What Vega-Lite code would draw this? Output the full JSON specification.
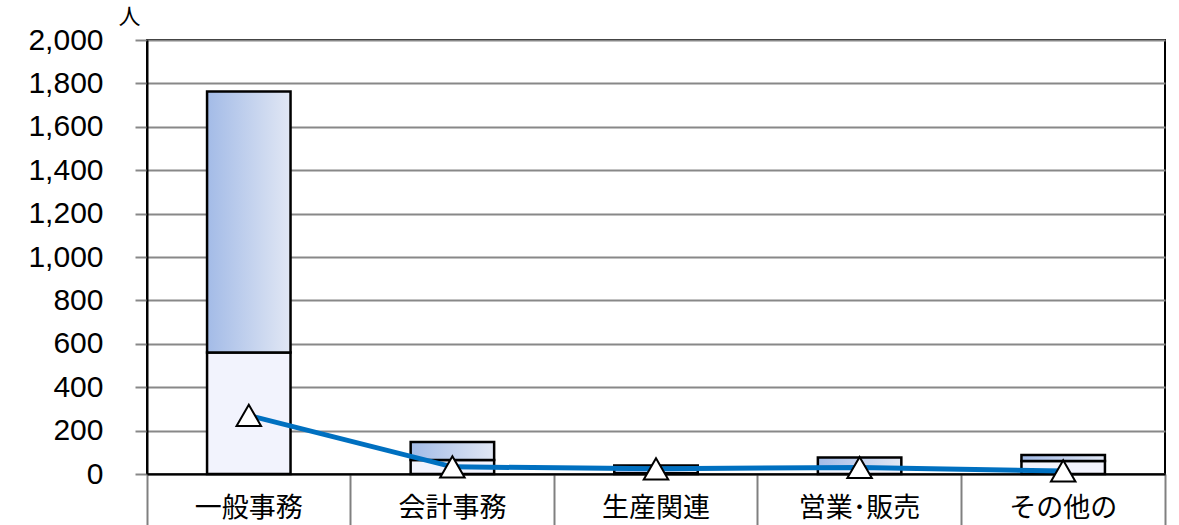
{
  "$schema": "https://vega.github.io/schema/vega-lite/v6.json",
  "autosize": "none",
  "padding": {"left": 147, "top": 40, "right": 14, "bottom": 51},
  "width": 1018,
  "height": 434,
  "background": "white",
  "config": {"view": {"stroke": "black", "strokeWidth": 2}},
  "data": {"values": [
    {"cat": "一般事務", "lower": 560, "total": 1763, "line": 270},
    {"cat": "会計事務", "lower": 65, "total": 147, "line": 33},
    {"cat": "生産関連\n事務", "lower": 3, "total": 39, "line": 24},
    {"cat": "営業･販売\n事務", "lower": 30, "total": 76, "line": 30},
    {"cat": "その他の\n事務員", "lower": 60, "total": 88, "line": 14}
  ]},
  "encoding": {
    "x": {
      "field": "cat", "type": "nominal", "sort": null,
      "scale": {"paddingInner": 0, "paddingOuter": 0},
      "axis": {
        "title": null, "labelAngle": 0,
        "labelExpr": "split(datum.label, '\\n')",
        "labelFont": "Noto Sans CJK JP", "labelFontSize": 27, "labelColor": "black",
        "labelBaseline": "middle", "labelLineHeight": 32,
        "labelPadding": -18,
        "bandPosition": 1, "tickExtra": true,
        "tickSize": 52, "tickColor": "#808080", "tickWidth": 2,
        "domainColor": "black", "domainWidth": 2,
        "grid": false
      }
    }
  },
  "layer": [
    {
      "mark": {"type": "bar", "width": {"band": 0.41}, "fill": "#F2F3FD", "stroke": "black", "strokeWidth": 2.5},
      "encoding": {
        "y": {
          "field": "lower", "type": "quantitative",
          "scale": {"domain": [0, 2000]},
          "axis": {
            "values": [0, 200, 400, 600, 800, 1000, 1200, 1400, 1600, 1800, 2000],
            "format": ",d",
            "labelFont": "Liberation Sans", "labelFontSize": 30, "labelColor": "black",
            "labelPadding": 32,
            "tickSize": 12, "tickColor": "#888888", "tickWidth": 2,
            "grid": true, "gridColor": "#888888", "gridWidth": 2,
            "domainColor": "black", "domainWidth": 2,
            "title": "人", "titleAngle": 0, "titleX": -18, "titleY": -24,
            "titleAlign": "center", "titleBaseline": "middle",
            "titleFont": "Noto Sans CJK JP", "titleFontSize": 22, "titleFontWeight": "normal", "titleColor": "black"
          }
        }
      }
    },
    {
      "mark": {
        "type": "bar", "width": {"band": 0.41}, "stroke": "black", "strokeWidth": 2.5,
        "fill": {"gradient": "linear", "x1": 0, "y1": 0, "x2": 1, "y2": 0,
          "stops": [{"offset": 0, "color": "#A3BBE7"}, {"offset": 1, "color": "#E1E7F4"}]}
      },
      "encoding": {
        "y": {"field": "lower", "type": "quantitative"},
        "y2": {"field": "total"}
      }
    },
    {
      "mark": {"type": "line", "color": "#0070C0", "strokeWidth": 5},
      "encoding": {"y": {"field": "line", "type": "quantitative"}}
    },
    {
      "mark": {"type": "point", "shape": "triangle-up", "size": 600, "filled": true, "fill": "white", "stroke": "black", "strokeWidth": 2, "opacity": 1},
      "encoding": {"y": {"field": "line", "type": "quantitative"}}
    }
  ]
}
